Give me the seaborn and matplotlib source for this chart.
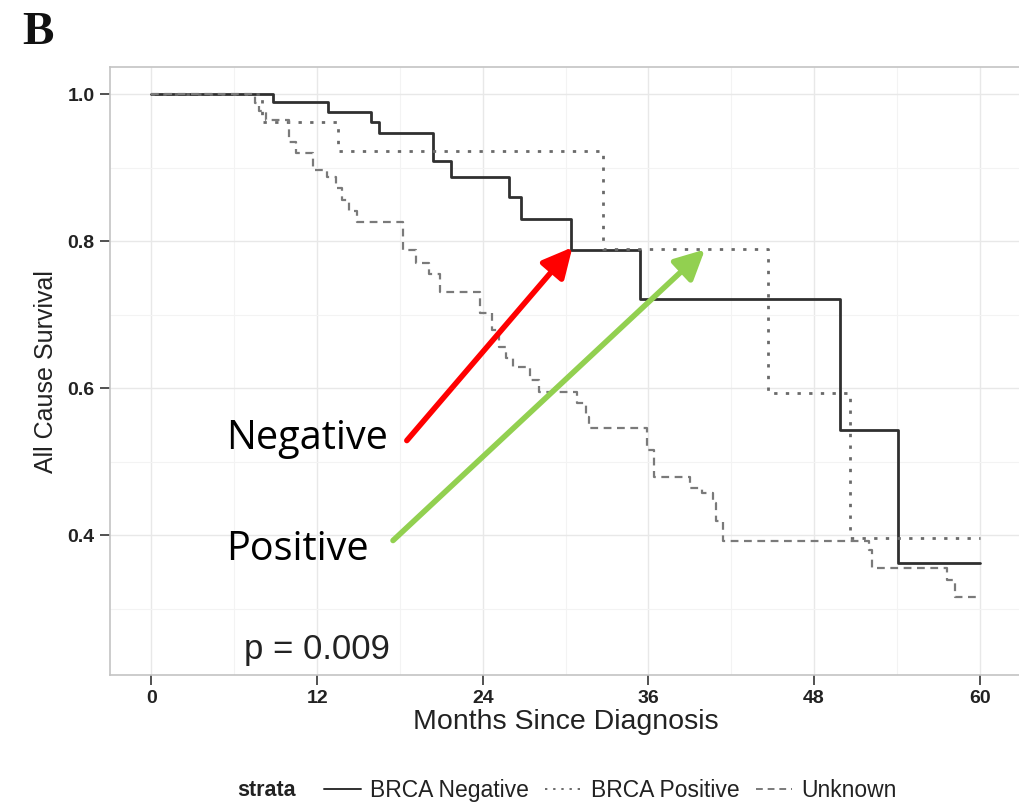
import matplotlib
matplotlib.use('Agg')
import matplotlib.pyplot as plt
from matplotlib.lines import Line2D
from matplotlib.ticker import MultipleLocator
import seaborn as sns
import pandas as pd

# Kaplan-Meier step data (month of event, survival after the step)
neg_time = [0, 8.8, 12.8, 15.9, 16.5, 20.4, 21.7, 25.9, 26.8, 30.4, 35.4, 49.9, 54.1, 60]
neg_surv = [1.0, 0.989, 0.976, 0.962, 0.947, 0.910, 0.888, 0.860, 0.830, 0.788, 0.722, 0.543, 0.362, 0.362]

pos_time = [0, 8.0, 13.5, 32.7, 44.7, 50.6, 60]
pos_surv = [1.0, 0.962, 0.923, 0.790, 0.594, 0.396, 0.396]

unk_time = [0, 7.5, 7.8, 8.3, 10.0, 10.5, 11.7, 12.7, 13.4, 13.8, 14.3, 14.9, 18.2, 19.2,
            20.1, 20.9, 23.8, 24.7, 25.2, 25.7, 26.2, 27.4, 28.1, 30.8, 31.5, 31.7, 35.9,
            36.4, 39.0, 39.9, 40.7, 40.9, 41.4, 52.0, 52.2, 57.6, 58.2, 60]
unk_surv = [1.0, 0.988, 0.978, 0.965, 0.935, 0.920, 0.897, 0.887, 0.873, 0.856, 0.841, 0.826,
            0.788, 0.771, 0.756, 0.731, 0.702, 0.679, 0.656, 0.641, 0.629, 0.611, 0.595,
            0.580, 0.561, 0.546, 0.516, 0.479, 0.465, 0.457, 0.444, 0.420, 0.393, 0.380,
            0.356, 0.339, 0.316, 0.316]

strata = ['BRCA Negative', 'BRCA Positive', 'Unknown']
x_ticks = [0, 12, 24, 36, 48, 60]
y_ticks = [0.4, 0.6, 0.8, 1.0]
p_label = 'p = 0.009'

df = pd.concat([
    pd.DataFrame({'time': neg_time, 'surv': neg_surv, 'strata': strata[0]}),
    pd.DataFrame({'time': pos_time, 'surv': pos_surv, 'strata': strata[1]}),
    pd.DataFrame({'time': unk_time, 'surv': unk_surv, 'strata': strata[2]}),
])

sns.set_style("whitegrid")
plt.rcParams['font.family'] = ['Liberation Sans', 'DejaVu Sans']

colors = {'BRCA Negative': '#303030', 'BRCA Positive': '#6a6a6a', 'Unknown': '#7a7a7a'}
dashes = {'BRCA Negative': None, 'BRCA Positive': (1.2, 3.0), 'Unknown': (3.5, 2.5)}
widths = {'BRCA Negative': 2.0, 'BRCA Positive': 2.0, 'Unknown': 1.6}

fig = plt.figure(figsize=(10.19, 8.05), dpi=100)
ax = fig.add_axes([0.108, 0.1615, 0.894, 0.755])

for name in strata:
    sub = df[df['strata'] == name]
    sns.lineplot(data=sub, x='time', y='surv', ax=ax, color=colors[name],
                 drawstyle='steps-post', linewidth=widths[name],
                 sort=False, estimator=None)
    if dashes[name]:
        ax.lines[-1].set_dashes(dashes[name])

ax.set_xlim(-3, 63)
ax.set_ylim(0.21, 1.037)
ax.set_xticks(x_ticks)
ax.set_yticks(y_ticks)
ax.xaxis.set_minor_locator(MultipleLocator(6))
ax.yaxis.set_minor_locator(MultipleLocator(0.1))
ax.grid(which='major', color='#e8e8e8', linewidth=1.0)
ax.grid(which='minor', color='#f3f3f3', linewidth=0.8)
for s in ax.spines.values():
    s.set_color('#c4c4c4')
    s.set_linewidth(1.2)
ax.tick_params(axis='both', which='major', length=7, width=1.2, color='#333333',
               labelsize=14, labelcolor='#222222', pad=4, left=True, bottom=True)
ax.tick_params(which='minor', length=0)
for lab in ax.get_xticklabels() + ax.get_yticklabels():
    lab.set_fontweight('bold')
ax.set_xlabel('Months Since Diagnosis', fontsize=20.5, color='#222222', labelpad=1)
ax.set_ylabel('All Cause Survival', fontsize=18, color='#222222', labelpad=7)

ax.text(12, 0.245, p_label, fontsize=25, color='#222222', ha='center', va='center')

# Hand-drawn callouts
ax.annotate('', xy=(30.5, 0.792), xytext=(18.5, 0.529),
            arrowprops=dict(arrowstyle='-|>,head_length=0.9,head_width=0.45', lw=4,
                            color='#ff0000', shrinkA=0, shrinkB=0, mutation_scale=20))
ax.annotate('', xy=(40.1, 0.789), xytext=(17.5, 0.393),
            arrowprops=dict(arrowstyle='-|>,head_length=0.9,head_width=0.45', lw=4,
                            color='#92d050', shrinkA=0, shrinkB=0, mutation_scale=20))
ax.text(11.27, 0.532, 'Negative', fontsize=28.5, family=['Open Sans', 'DejaVu Sans'],
        ha='center', va='center', color='black')
ax.text(10.54, 0.380, 'Positive', fontsize=28.5, family=['Open Sans', 'DejaVu Sans'],
        ha='center', va='center', color='black')

fig.text(0.022, 0.945, 'B', fontsize=34, fontweight='bold',
         family=['Liberation Serif', 'DejaVu Serif'], color='#111111')

# Legend at the bottom
handles = []
for n in strata:
    h = Line2D([], [], color=colors[n], linewidth=1.4)
    if dashes[n]:
        h.set_dashes(dashes[n])
    handles.append(h)
fig.text(0.233, 0.018, 'strata', fontsize=15.5, fontweight='bold', color='#222222', va='center')
fig.legend(handles, strata, loc='center left', bbox_to_anchor=(0.298, 0.018), ncol=3,
           frameon=False, fontsize=16.5, handlelength=1.6, columnspacing=0.7,
           handletextpad=0.4, labelcolor='#222222')

plt.savefig('out.png', dpi=100)
plt.close()
